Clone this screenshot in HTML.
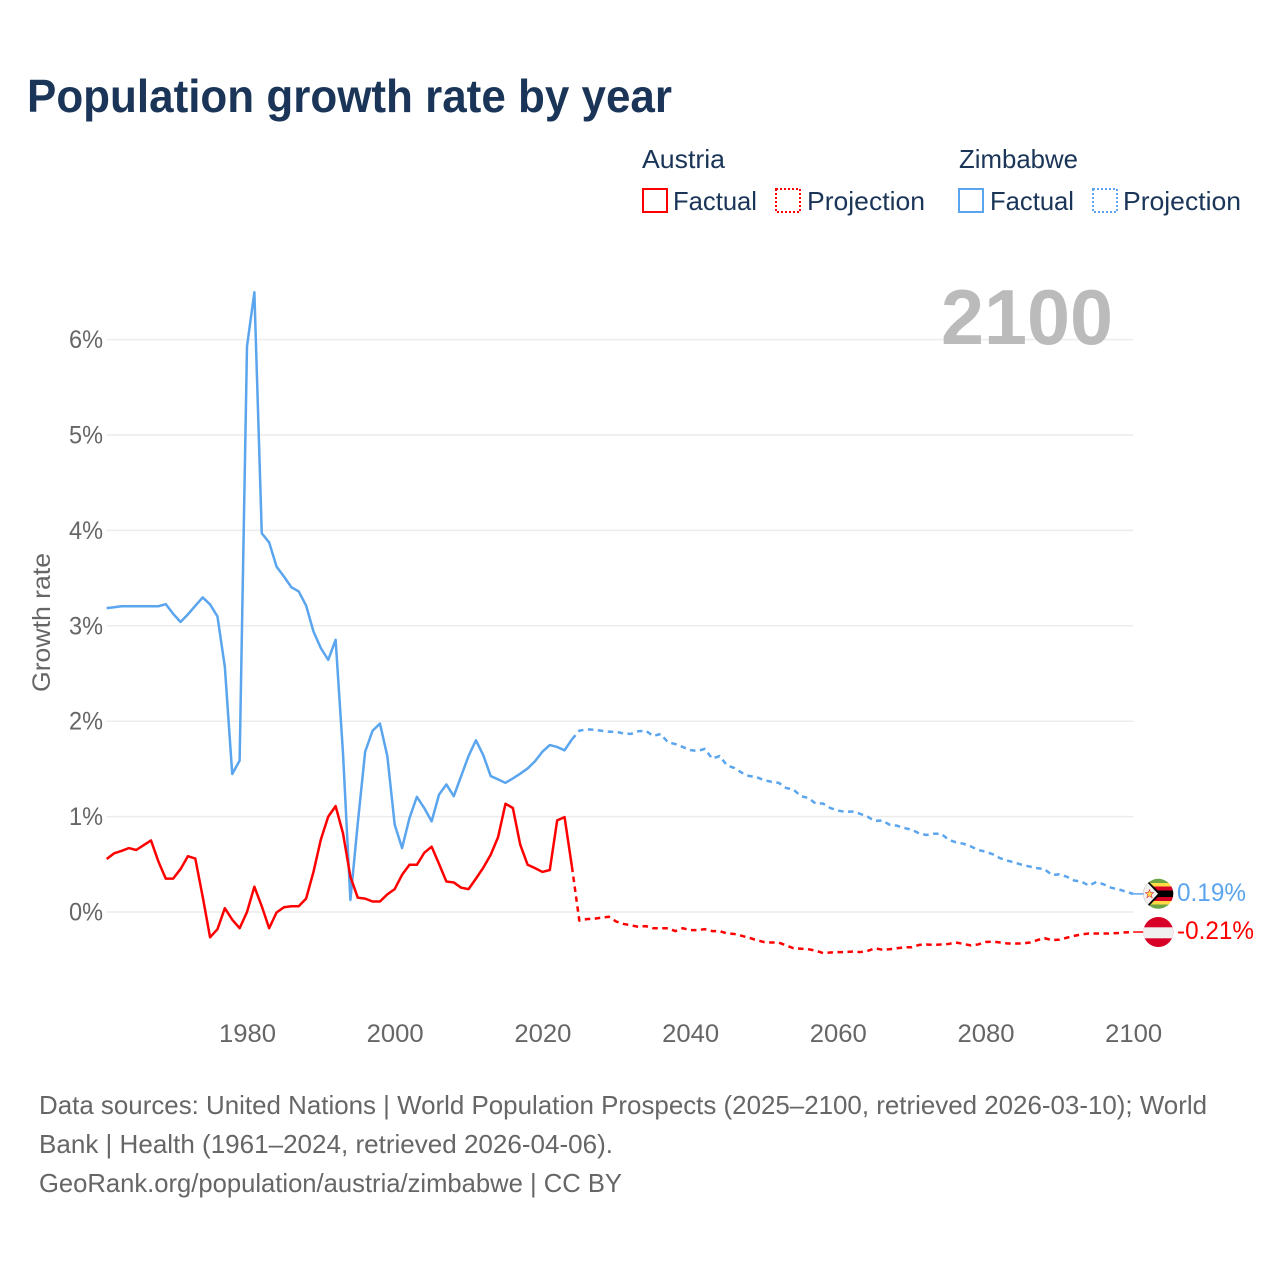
<!DOCTYPE html>
<html lang="en">
<head>
<meta charset="utf-8">
<title>Population growth rate by year</title>
<style>
html,body{margin:0;padding:0;background:#fff;}
svg{display:block;font-family:"Liberation Sans",sans-serif;}
</style>
</head>
<body>
<svg id="chart" width="1280" height="1280" viewBox="0 0 1280 1280" xmlns="http://www.w3.org/2000/svg">
  <defs>
    <clipPath id="flag-clip-zw"><circle cx="1158.3" cy="893.8" r="15"/></clipPath>
    <clipPath id="flag-clip-at"><circle cx="1158.3" cy="932" r="15"/></clipPath>
  </defs>
  <rect width="1280" height="1280" fill="#fff"/>

  <text x="27" y="112" font-size="46" font-weight="700" fill="#1a3557" textLength="645" lengthAdjust="spacingAndGlyphs">Population growth rate by year</text>

  <g font-size="26" fill="#1a3557">
    <text x="642" y="168" textLength="83" lengthAdjust="spacingAndGlyphs">Austria</text>
    <text x="959" y="168" textLength="119" lengthAdjust="spacingAndGlyphs">Zimbabwe</text>

    <g>
      <rect x="643" y="189" width="24" height="23" fill="none" stroke="#ff0000" stroke-width="2"/>
      <text x="673" y="210" textLength="84" lengthAdjust="spacingAndGlyphs">Factual</text>
    </g>
    <g>
      <rect x="776" y="189" width="24" height="23" fill="none" stroke="#ff0000" stroke-width="2" stroke-dasharray="2 2"/>
      <text x="807" y="210" textLength="118" lengthAdjust="spacingAndGlyphs">Projection</text>
    </g>
    <g>
      <rect x="959" y="189" width="24" height="23" fill="none" stroke="#5aa5ee" stroke-width="2"/>
      <text x="990" y="210" textLength="84" lengthAdjust="spacingAndGlyphs">Factual</text>
    </g>
    <g>
      <rect x="1093" y="189" width="24" height="23" fill="none" stroke="#5aa5ee" stroke-width="2" stroke-dasharray="2 2"/>
      <text x="1123" y="210" textLength="118" lengthAdjust="spacingAndGlyphs">Projection</text>
    </g>
  </g>

  <g id="grid"></g>
  <g id="y-axis" font-size="25" fill="#666"></g>
  <g id="x-axis" font-size="25" fill="#666"></g>

  <text transform="translate(50,622.5) rotate(-90)" text-anchor="middle" font-size="25" fill="#666" textLength="139" lengthAdjust="spacingAndGlyphs">Growth rate</text>

  <text x="941" y="344" font-size="78" font-weight="700" fill="#bbbbbb" textLength="172" lengthAdjust="spacingAndGlyphs">2100</text>

  <g id="series"></g>

  <g clip-path="url(#flag-clip-zw)">
    <rect x="1143" y="878" width="31" height="32" fill="#f0f0f0"/>
    <rect x="1143" y="878" width="31" height="5" fill="#6da544"/>
    <rect x="1143" y="883" width="31" height="3.5" fill="#ffda44"/>
    <rect x="1143" y="886.5" width="31" height="4" fill="#d80027"/>
    <rect x="1143" y="890.5" width="31" height="6.5" fill="#000"/>
    <rect x="1143" y="897" width="31" height="4" fill="#d80027"/>
    <rect x="1143" y="901" width="31" height="3.5" fill="#ffda44"/>
    <rect x="1143" y="904.5" width="31" height="6" fill="#6da544"/>
    <polygon points="1143,878 1145,878 1161,893.8 1145,910 1143,910" fill="#000"/>
    <polygon points="1143,878 1143,910 1158,893.8 1145,880" fill="#f0f0f0"/>
    <polygon points="1149.5,889.5 1150.6,892.6 1153.8,892.6 1151.2,894.6 1152.2,897.8 1149.5,895.9 1146.8,897.8 1147.8,894.6 1145.2,892.6 1148.4,892.6" fill="#ffda44" stroke="#d80027" stroke-width="0.5"/>
  </g>
  <text x="1177" y="901" font-size="25" fill="#5aa5ee" textLength="69" lengthAdjust="spacingAndGlyphs">0.19%</text>

  <g clip-path="url(#flag-clip-at)">
    <rect x="1143" y="917" width="31" height="31" fill="#d80027"/>
    <rect x="1143" y="927.3" width="31" height="11" fill="#f0f0f0"/>
  </g>
  <text x="1177" y="939" font-size="25" fill="#ff0000" textLength="77" lengthAdjust="spacingAndGlyphs">-0.21%</text>

  <g font-size="26" fill="#666">
    <text x="39" y="1114" textLength="1168" lengthAdjust="spacingAndGlyphs">Data sources: United Nations | World Population Prospects (2025–2100, retrieved 2026-03-10); World</text>
    <text x="39" y="1153" textLength="574" lengthAdjust="spacingAndGlyphs">Bank | Health (1961–2024, retrieved 2026-04-06).</text>
    <text x="39" y="1192" textLength="583" lengthAdjust="spacingAndGlyphs">GeoRank.org/population/austria/zimbabwe | CC BY</text>
  </g>
</svg>

<script>
var xTickYears = [1980, 2000, 2020, 2040, 2060, 2080, 2100];
var yTickValues = [0, 1, 2, 3, 4, 5, 6];
var factualStartYear = 1961;
var projectionStartYear = 2024;

var austriaFactual = [
  0.556,0.615,0.64,0.67,0.65,0.70,0.75,0.53,0.35,0.35,
  0.45,0.585,0.56,0.16,-0.265,-0.18,0.04,-0.08,-0.17,0,
  0.265,0.06,-0.17,-0.005,0.05,0.06,0.06,0.14,0.42,0.76,
  1.0,1.11,0.825,0.37,0.15,0.14,0.11,0.11,0.185,0.24,
  0.39,0.495,0.495,0.62,0.685,0.505,0.32,0.31,0.255,0.24,
  0.35,0.465,0.6,0.785,1.135,1.09,0.705,0.495,0.46,0.42,
  0.44,0.96,0.995,0.475
];
var zimbabweFactual = [
  3.185,3.195,3.205,3.205,3.205,3.205,3.205,3.205,3.227,3.126,
  3.04,3.12,3.21,3.297,3.224,3.098,2.57,1.447,1.587,5.93,
  6.496,3.97,3.874,3.62,3.517,3.405,3.36,3.213,2.94,2.766,
  2.643,2.853,1.664,0.126,0.93,1.68,1.9,1.975,1.636,0.916,
  0.67,0.985,1.207,1.09,0.95,1.23,1.337,1.214,1.425,1.635,
  1.8,1.642,1.425,1.39,1.354,1.4,1.45,1.505,1.58,1.68,
  1.75,1.73,1.695,1.81
];
var austriaProjection = [
  0.475,-0.09,-0.075,-0.07,-0.06,-0.05,-0.1,-0.125,-0.14,-0.155,-0.148,
  -0.17,-0.17,-0.17,-0.2,-0.17,-0.19,-0.19,-0.18,-0.2,-0.2,
  -0.225,-0.23,-0.25,-0.27,-0.295,-0.315,-0.32,-0.32,-0.35,-0.38,
  -0.385,-0.39,-0.405,-0.43,-0.425,-0.42,-0.42,-0.415,-0.42,-0.41,
  -0.38,-0.395,-0.39,-0.38,-0.37,-0.37,-0.345,-0.34,-0.345,-0.34,
  -0.335,-0.32,-0.335,-0.35,-0.34,-0.315,-0.31,-0.32,-0.33,-0.33,
  -0.33,-0.32,-0.295,-0.275,-0.295,-0.29,-0.27,-0.25,-0.235,-0.225,
  -0.225,-0.225,-0.225,-0.22,-0.213,-0.21
];
var zimbabweProjection = [
  1.81,1.9,1.915,1.91,1.9,1.89,1.89,1.87,1.867,1.895,1.9,
  1.845,1.866,1.78,1.76,1.73,1.698,1.688,1.71,1.607,1.635,
  1.537,1.509,1.46,1.425,1.414,1.382,1.365,1.354,1.30,1.284,
  1.214,1.196,1.137,1.137,1.09,1.063,1.05,1.053,1.03,1.0,
  0.954,0.96,0.916,0.905,0.88,0.863,0.825,0.807,0.82,0.82,
  0.758,0.73,0.716,0.688,0.65,0.633,0.605,0.563,0.538,0.517,
  0.493,0.476,0.46,0.448,0.388,0.395,0.37,0.33,0.318,0.276,
  0.315,0.29,0.255,0.238,0.213,0.19
];

var SVG_NS = 'http://www.w3.org/2000/svg';
function xScale(year) { return 247 + (year - 1980) * 7.385; }
function yScale(value) { return 912 - value * 95.4; }

var grid = document.getElementById('grid');
var yAxis = document.getElementById('y-axis');
var xAxis = document.getElementById('x-axis');
var series = document.getElementById('series');

yTickValues.forEach(function (v) {
  var line = document.createElementNS(SVG_NS, 'line');
  
  
  line.setAttribute('x1', 106.7);
  line.setAttribute('x2', xScale(2100));
  line.setAttribute('y1', yScale(v));
  line.setAttribute('y2', yScale(v));
  line.setAttribute('stroke', '#ececec');
  line.setAttribute('stroke-width', 1.5);
  grid.appendChild(line);

  var label = document.createElementNS(SVG_NS, 'text');
  
  
  label.setAttribute('x', 103);
  label.setAttribute('y', yScale(v) + 8.5);
  label.setAttribute('text-anchor', 'end');
  label.setAttribute('textLength', 34);
  label.setAttribute('lengthAdjust', 'spacingAndGlyphs');
  label.textContent = v + '%';
  yAxis.appendChild(label);
});

xTickYears.forEach(function (y) {
  var label = document.createElementNS(SVG_NS, 'text');
  
  
  label.setAttribute('x', xScale(y) + 0.5);
  label.setAttribute('y', 1042);
  label.setAttribute('text-anchor', 'middle');
  label.setAttribute('textLength', 57);
  label.setAttribute('lengthAdjust', 'spacingAndGlyphs');
  label.textContent = String(y);
  xAxis.appendChild(label);
});

function drawLine(values, startYear, color, dashed, name) {
  var pts = values.map(function (v, i) {
    return xScale(startYear + i).toFixed(2) + ',' + yScale(v).toFixed(2);
  });
  var path = document.createElementNS(SVG_NS, 'polyline');
  
  
  path.setAttribute('points', pts.join(' '));
  path.setAttribute('fill', 'none');
  path.setAttribute('stroke', color);
  path.setAttribute('stroke-width', 2.5);
  path.setAttribute('stroke-linejoin', 'round');
  if (dashed) path.setAttribute('stroke-dasharray', '5.5 4.5');
  series.appendChild(path);
}

function drawConnector(values, color, name) {
  var last = values[values.length - 1];
  var link = document.createElementNS(SVG_NS, 'line');
  
  
  link.setAttribute('x1', xScale(2100));
  link.setAttribute('x2', xScale(2100) + 10);
  link.setAttribute('y1', yScale(last));
  link.setAttribute('y2', yScale(last));
  link.setAttribute('stroke', color);
  link.setAttribute('stroke-width', 1.5);
  series.appendChild(link);
}

drawLine(zimbabweFactual, factualStartYear, '#5aa5ee', false, 'line-zimbabwe-factual');
drawLine(zimbabweProjection, projectionStartYear, '#5aa5ee', true, 'line-zimbabwe-projection');
drawConnector(zimbabweProjection, '#5aa5ee', 'connector-zimbabwe');
drawLine(austriaFactual, factualStartYear, '#ff0000', false, 'line-austria-factual');
drawLine(austriaProjection, projectionStartYear, '#ff0000', true, 'line-austria-projection');
drawConnector(austriaProjection, '#ff0000', 'connector-austria');
</script>
</body>
</html>
